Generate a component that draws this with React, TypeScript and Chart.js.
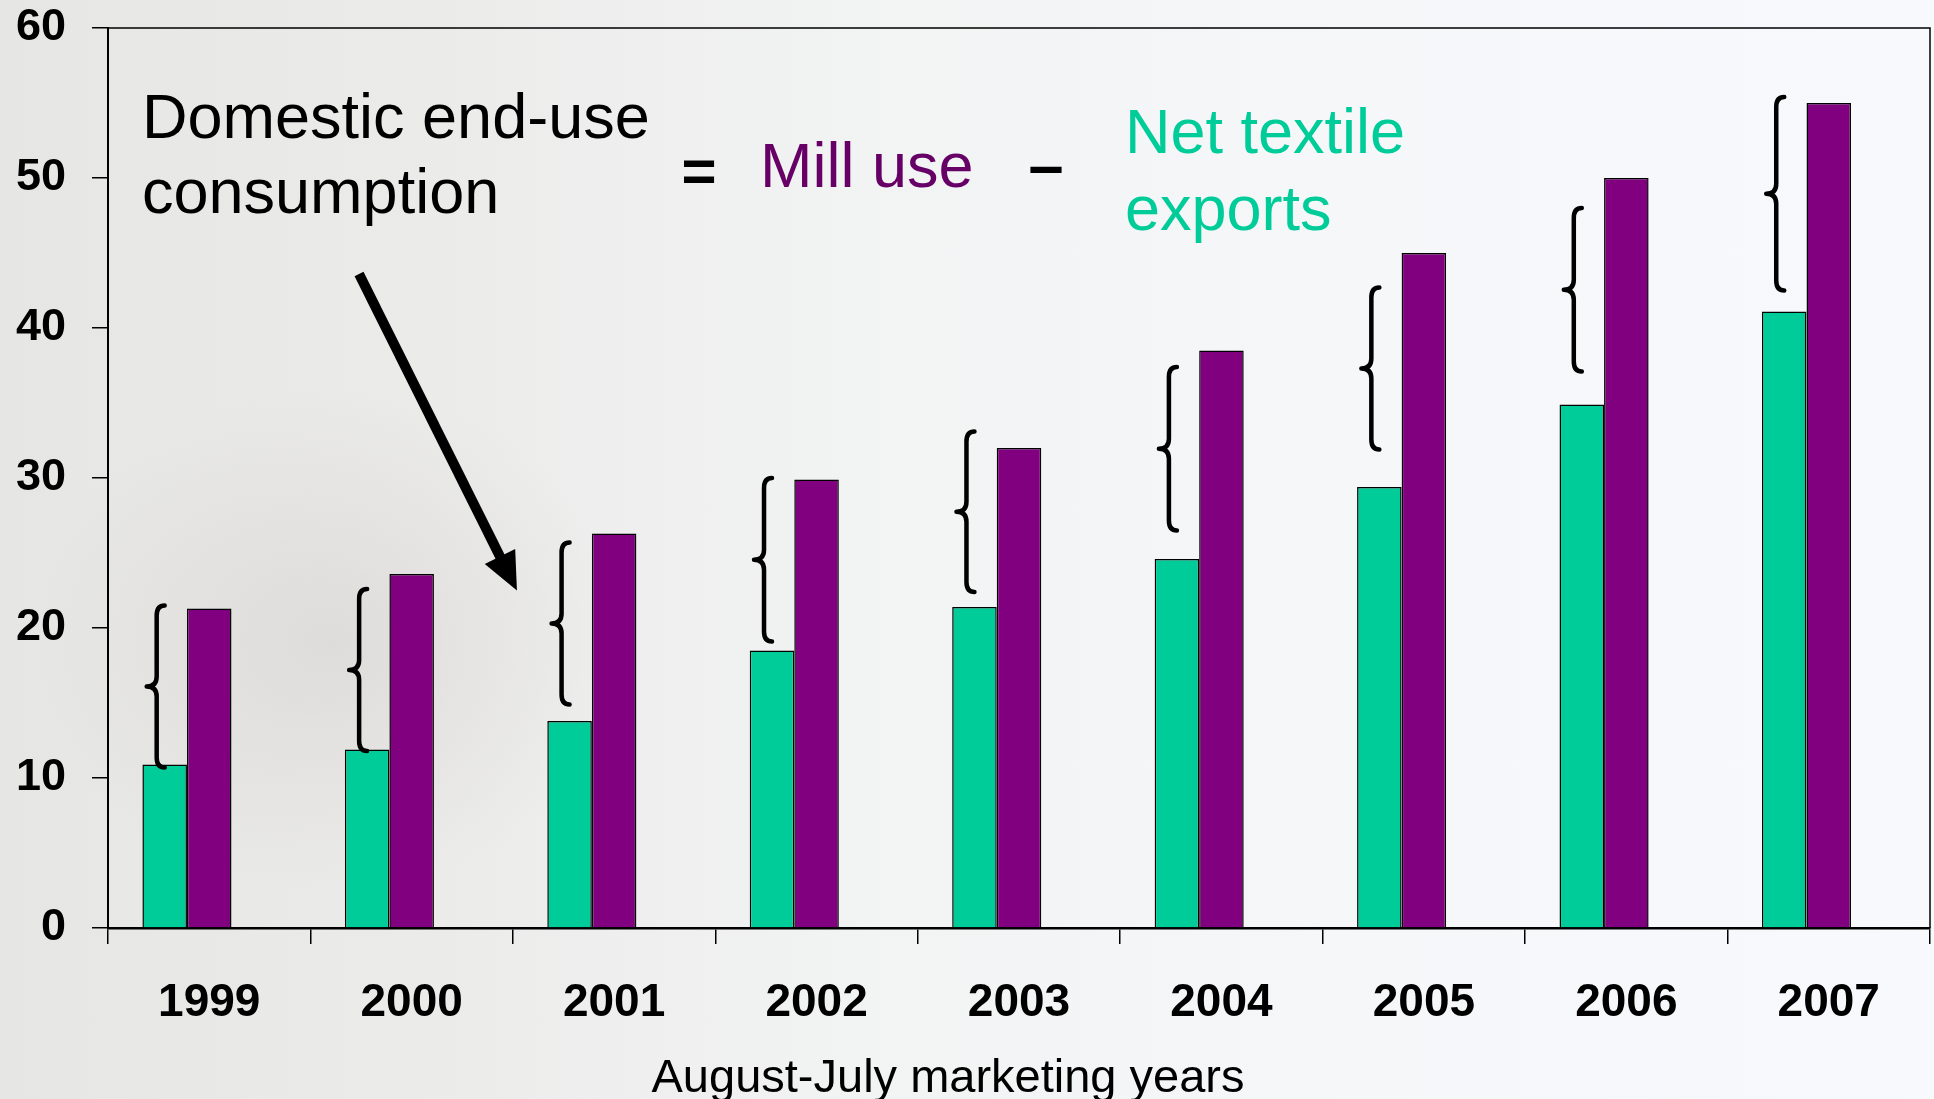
import React, { useEffect, useRef } from 'react';
import { Chart, registerables } from 'chart.js';

Chart.register(...registerables);

// ---- data ----
const categories = ['1999', '2000', '2001', '2002', '2003', '2004', '2005', '2006', '2007'];
const netTextileExports = [10.9, 11.9, 13.8, 18.5, 21.4, 24.6, 29.4, 34.9, 41.1];
const millUse = [21.3, 23.6, 26.3, 29.9, 32.0, 38.5, 45.0, 50.0, 55.0];
// third (empty) series slot of the original clustered chart
const emptySlot = [null, null, null, null, null, null, null, null, null];
// brace annotations (value units): top and bottom of each brace
const braceTop = [21.5, 22.6, 25.7, 30.0, 33.1, 37.4, 42.7, 48.0, 55.4];
const braceBottom = [10.7, 11.8, 14.9, 19.1, 22.4, 26.5, 31.9, 37.1, 42.5];
const yTickValues = [0, 10, 20, 30, 40, 50, 60];
// arrow annotation (category index, value)
const arrowStart = [0.74, 43.6];
const arrowTip = [1.52, 22.5];

const FONT = '"Liberation Sans", Arial, Helvetica, sans-serif';
const GREEN = '#00CC99';
const PURPLE = '#800080';
const PURPLE_TEXT = '#660066';

function drawBrace(ctx: CanvasRenderingContext2D, x: number, top: number, bottom: number) {
  const mid = (top + bottom) / 2;
  const hook = 8;
  const bulge = 10;
  const r = 10;
  ctx.beginPath();
  ctx.moveTo(x + hook, top);
  ctx.quadraticCurveTo(x, top, x, top + r);
  ctx.lineTo(x, mid - r);
  ctx.quadraticCurveTo(x, mid, x - bulge, mid);
  ctx.quadraticCurveTo(x, mid, x, mid + r);
  ctx.lineTo(x, bottom - r);
  ctx.quadraticCurveTo(x, bottom, x + hook, bottom);
  ctx.stroke();
}

const annotationPlugin = {
  id: 'annotations',
  afterDatasetsDraw(chart: any) {
    const ctx: CanvasRenderingContext2D = chart.ctx;
    const { left, right, top, bottom } = chart.chartArea;
    const xs = chart.scales.x;
    const ys = chart.scales.y;
    ctx.save();

    // plot frame (top and right)
    ctx.strokeStyle = '#000';
    ctx.lineWidth = 1.5;
    ctx.beginPath();
    ctx.moveTo(left, top);
    ctx.lineTo(right, top);
    ctx.lineTo(right, bottom);
    ctx.stroke();

    // braces
    const meta = chart.getDatasetMeta(0);
    ctx.strokeStyle = '#000';
    ctx.lineWidth = 4.5;
    ctx.lineCap = 'round';
    ctx.lineJoin = 'round';
    for (let i = 0; i < categories.length; i++) {
      const el = meta.data[i];
      if (!el) continue;
      const bx = el.x - 8;
      drawBrace(ctx, bx, ys.getPixelForValue(braceTop[i]), ys.getPixelForValue(braceBottom[i]));
    }

    // arrow
    const sx = xs.getPixelForValue(arrowStart[0]);
    const sy = ys.getPixelForValue(arrowStart[1]);
    const tx = xs.getPixelForValue(arrowTip[0]);
    const ty = ys.getPixelForValue(arrowTip[1]);
    const dx = tx - sx;
    const dy = ty - sy;
    const len = Math.hypot(dx, dy);
    const ux = dx / len;
    const uy = dy / len;
    const headLen = 38;
    const headHalf = 17;
    const bxp = tx - ux * headLen;
    const byp = ty - uy * headLen;
    ctx.lineCap = 'butt';
    ctx.lineWidth = 10;
    ctx.beginPath();
    ctx.moveTo(sx, sy);
    ctx.lineTo(bxp + ux * 2, byp + uy * 2);
    ctx.stroke();
    ctx.fillStyle = '#000';
    ctx.beginPath();
    ctx.moveTo(tx, ty);
    ctx.lineTo(bxp - uy * headHalf, byp + ux * headHalf);
    ctx.lineTo(bxp + uy * headHalf, byp - ux * headHalf);
    ctx.closePath();
    ctx.fill();

    // equation text
    ctx.textBaseline = 'alphabetic';
    ctx.textAlign = 'left';
    ctx.fillStyle = '#000';
    ctx.font = `63px ${FONT}`;
    ctx.fillText('Domestic end-use', 142, 138);
    ctx.fillText('consumption', 142, 213);

    ctx.textAlign = 'center';
    ctx.font = `bold 60px ${FONT}`;
    ctx.fillText('=', 699, 191);
    ctx.font = `bold 63px ${FONT}`;
    ctx.fillText('\u2013', 1046, 187);

    ctx.textAlign = 'left';
    ctx.font = `63px ${FONT}`;
    ctx.fillStyle = PURPLE_TEXT;
    ctx.fillText('Mill use', 760, 187);
    ctx.fillStyle = GREEN;
    ctx.fillText('Net textile', 1125, 153);
    ctx.fillText('exports', 1125, 230);

    // axis title
    ctx.fillStyle = '#000';
    ctx.textAlign = 'center';
    ctx.font = `47px ${FONT}`;
    ctx.fillText('August-July marketing years', 948, 1092);

    ctx.restore();
  },
};

export default function App() {
  const canvasRef = useRef<HTMLCanvasElement | null>(null);

  useEffect(() => {
    if (!canvasRef.current) return;
    const chart = new Chart(canvasRef.current, {
      type: 'bar',
      data: {
        labels: categories,
        datasets: [
          {
            label: 'Net textile exports',
            data: netTextileExports,
            backgroundColor: GREEN,
            borderColor: '#000',
            borderWidth: 1.5,
          },
          {
            label: 'Mill use',
            data: millUse,
            backgroundColor: PURPLE,
            borderColor: '#000',
            borderWidth: 1.5,
          },
          {
            label: '',
            data: emptySlot as any,
            backgroundColor: 'rgba(0,0,0,0)',
            borderWidth: 0,
          },
        ],
      },
      options: {
        responsive: false,
        animation: false,
        devicePixelRatio: 1,
        datasets: {
          bar: {
            barPercentage: 1,
            categoryPercentage: 0.66,
          },
        },
        layout: { padding: { top: 28, right: 4, left: 0, bottom: 0 } },
        plugins: {
          legend: { display: false },
          tooltip: { enabled: false },
          title: { display: false },
        },
        scales: {
          x: {
            type: 'category',
            offset: true,
            grid: {
              display: true,
              drawOnChartArea: false,
              drawTicks: true,
              tickLength: 16,
              color: '#000',
              lineWidth: 1.5,
              offset: true,
            },
            border: { display: true, color: '#000', width: 2.5 },
            ticks: {
              color: '#000',
              padding: 32,
              maxRotation: 0,
              autoSkip: false,
              font: { family: FONT, size: 46, weight: 'bold' },
            },
            afterFit(scale: any) {
              scale.height = 171;
              scale.paddingLeft = 0;
              scale.paddingRight = 0;
            },
          },
          y: {
            min: 0,
            max: 60,
            afterBuildTicks(scale: any) {
              scale.ticks = yTickValues.map((v) => ({ value: v }));
            },
            grid: {
              display: true,
              drawOnChartArea: false,
              drawTicks: true,
              tickLength: 16,
              color: '#000',
              lineWidth: 1.5,
            },
            border: { display: true, color: '#000', width: 2 },
            ticks: {
              color: '#000',
              padding: 26,
              font: { family: FONT, size: 45, weight: 'bold' },
            },
            afterFit(scale: any) {
              scale.width = 108;
              scale.paddingTop = 0;
              scale.paddingBottom = 0;
            },
          },
        },
      },
      plugins: [annotationPlugin],
    } as any);
    return () => chart.destroy();
  }, []);

  return (
    <div
      style={{
        position: 'fixed',
        left: 0,
        top: 0,
        width: 1934,
        height: 1099,
        overflow: 'hidden',
        background:
          'radial-gradient(ellipse 420px 360px at 330px 640px, rgba(200,195,190,0.35), rgba(200,195,190,0) 70%), linear-gradient(90deg, #e6e6e4 0%, #ebebea 22%, #f2f3f3 45%, #f5f7f9 70%, #f7f9fc 100%)',
      }}
    >
      <canvas ref={canvasRef} width={1934} height={1099} style={{ display: 'block' }} />
    </div>
  );
}
